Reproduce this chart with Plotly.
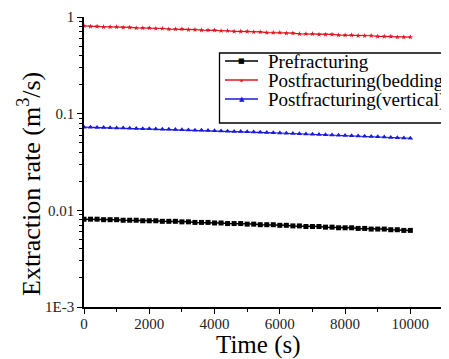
import plotly.graph_objects as go

time_s = [0, 200, 400, 600, 800, 1000, 1200, 1400, 1600, 1800,
          2000, 2200, 2400, 2600, 2800, 3000, 3200, 3400, 3600, 3800,
          4000, 4200, 4400, 4600, 4800, 5000, 5200, 5400, 5600, 5800,
          6000, 6200, 6400, 6600, 6800, 7000, 7200, 7400, 7600, 7800,
          8000, 8200, 8400, 8600, 8800, 9000, 9200, 9400, 9600, 9800,
          10000]

prefracturing = [0.0081, 0.0081, 0.0081, 0.0080, 0.0080, 0.0080, 0.0079, 0.0079, 0.0079, 0.0078,
                 0.0078, 0.0078, 0.0077, 0.0077, 0.0077, 0.0076, 0.0076, 0.0075, 0.0075, 0.0075,
                 0.0074, 0.0074, 0.0073, 0.0073, 0.0073, 0.0072, 0.0072, 0.0071, 0.0071, 0.0071,
                 0.0070, 0.0070, 0.0069, 0.0069, 0.0068, 0.0068, 0.0068, 0.0067, 0.0067, 0.0066,
                 0.0066, 0.0066, 0.0065, 0.0065, 0.0064, 0.0064, 0.0064, 0.0063, 0.0063, 0.0062,
                 0.0062]

post_bedding = [0.81, 0.80, 0.80, 0.79, 0.79, 0.79, 0.78, 0.78, 0.77, 0.77,
                0.77, 0.76, 0.76, 0.75, 0.75, 0.75, 0.74, 0.74, 0.73, 0.73,
                0.73, 0.72, 0.72, 0.71, 0.71, 0.71, 0.70, 0.70, 0.69, 0.69,
                0.69, 0.68, 0.68, 0.67, 0.67, 0.67, 0.66, 0.66, 0.66, 0.65,
                0.65, 0.65, 0.64, 0.64, 0.64, 0.63, 0.63, 0.63, 0.62, 0.62,
                0.62]

post_vertical = [0.0725, 0.0722, 0.0720, 0.0718, 0.0715, 0.0712, 0.0710, 0.0706, 0.0703, 0.0700,
                 0.0697, 0.0694, 0.0690, 0.0688, 0.0685, 0.0682, 0.0678, 0.0675, 0.0672, 0.0669,
                 0.0665, 0.0662, 0.0659, 0.0655, 0.0652, 0.0649, 0.0645, 0.0642, 0.0638, 0.0635,
                 0.0631, 0.0628, 0.0624, 0.0620, 0.0617, 0.0613, 0.0610, 0.0606, 0.0602, 0.0598,
                 0.0595, 0.0591, 0.0587, 0.0584, 0.0580, 0.0576, 0.0572, 0.0568, 0.0565, 0.0561,
                 0.0557]

series_names = ["Prefracturing", "Postfracturing(bedding)", "Postfracturing(vertical)"]
series_colors = ["black", "#e0141e", "#1a1adc"]
legend_glyphs = ["■", "✶", "▲"]

y_tickvals = [0.001, 0.01, 0.1, 1]
y_ticktext = ["1E-3", "0.01", "0.1", "1"]
x_tickvals = [0, 2000, 4000, 6000, 8000, 10000]
x_ticktext = ["0", "2000", "4000", "6000", "8000", "10000"]

FONT = "Liberation Serif"

# page body has an 8px margin; plot area wanted at screen x 84..443, y 17..307
OFF = 8
PL, PT, PW, PH = 84, 17, 359, 290


def px(X):
    return (X - PL) / PW


def py(Y):
    return (PT + PH - Y) / PH


fig = go.Figure()
fig.add_trace(go.Scatter(x=time_s, y=prefracturing, name=series_names[0], mode="lines+markers",
                         line=dict(color=series_colors[0], width=1.5),
                         marker=dict(symbol="square", size=5, color=series_colors[0])))
fig.add_trace(go.Scatter(x=time_s, y=post_bedding, name=series_names[1], mode="lines+markers",
                         line=dict(color=series_colors[1], width=1.2),
                         marker=dict(symbol="star", size=4, color=series_colors[1])))
fig.add_trace(go.Scatter(x=time_s, y=post_vertical, name=series_names[2], mode="lines+markers",
                         line=dict(color=series_colors[2], width=1.2),
                         marker=dict(symbol="triangle-up", size=5, color=series_colors[2])))

minor_y = [m * 10 ** e for e in (-3, -2, -1) for m in range(2, 10)]

shapes = [dict(type="rect", xref="paper", yref="paper", layer="above",
               x0=px(219.5), x1=px(460), y0=py(123), y1=py(53),
               line=dict(color="black", width=1.3), fillcolor="white")]
annotations = []
row_y = [61, 80, 99]
for name, col, glyph, ry in zip(series_names, series_colors, legend_glyphs, row_y):
    shapes.append(dict(type="line", xref="paper", yref="paper", layer="above",
                       x0=px(225), x1=px(258), y0=py(ry), y1=py(ry),
                       line=dict(color=col, width=1.4)))
    annotations.append(dict(text=glyph, x=px(241.5), y=py(ry), xref="paper", yref="paper",
                            xanchor="center", yanchor="middle", showarrow=False,
                            font=dict(family="DejaVu Sans", size=7 if glyph != "✶" else 6, color=col)))
    annotations.append(dict(text=name, x=px(266), y=py(ry + 1), xref="paper", yref="paper",
                            xanchor="left", yanchor="middle", showarrow=False,
                            font=dict(family=FONT, size=19, color="black")))

annotations.append(dict(text="Time (s)", x=px(258), y=py(344.5), xref="paper", yref="paper",
                        xanchor="center", yanchor="middle", showarrow=False,
                        font=dict(family=FONT, size=25, color="black")))
annotations.append(dict(text="Extraction rate (m<sup>3</sup>/s)", x=px(30), y=py(184),
                        xref="paper", yref="paper", textangle=-90,
                        xanchor="center", yanchor="middle", showarrow=False,
                        font=dict(family=FONT, size=26, color="black")))

fig.update_layout(
    width=449, height=359,
    margin=dict(l=PL - OFF, r=449 - (PL - OFF) - PW, t=PT - OFF, b=359 - (PT - OFF) - PH,
                autoexpand=False),
    paper_bgcolor="white", plot_bgcolor="white",
    font=dict(family=FONT, color="black"),
    showlegend=False,
    xaxis=dict(range=[0, 11000], tickmode="array", tickvals=x_tickvals, ticktext=x_ticktext,
               automargin=False, ticklabelstandoff=-3,
               ticks="outside", ticklen=5, tickwidth=1, tickcolor="black",
               showline=True, linecolor="black", linewidth=1.5,
               showgrid=False, zeroline=False,
               minor=dict(tickmode="array", tickvals=[1000, 3000, 5000, 7000, 9000, 11000],
                          ticks="outside", ticklen=3, tickcolor="black"),
               tickfont=dict(family=FONT, size=15, color="#222")),
    yaxis=dict(type="log", range=[-3, 0], tickmode="array", tickvals=y_tickvals, ticktext=y_ticktext,
               automargin=False,
               ticks="outside", ticklen=5, tickwidth=1, tickcolor="black",
               showline=True, linecolor="black", linewidth=1.5,
               showgrid=False, zeroline=False,
               minor=dict(tickmode="array", tickvals=minor_y,
                          ticks="outside", ticklen=3, tickcolor="black"),
               tickfont=dict(family=FONT, size=15, color="#222")),
    shapes=shapes,
    annotations=annotations,
)

fig.write_html("out.html")
